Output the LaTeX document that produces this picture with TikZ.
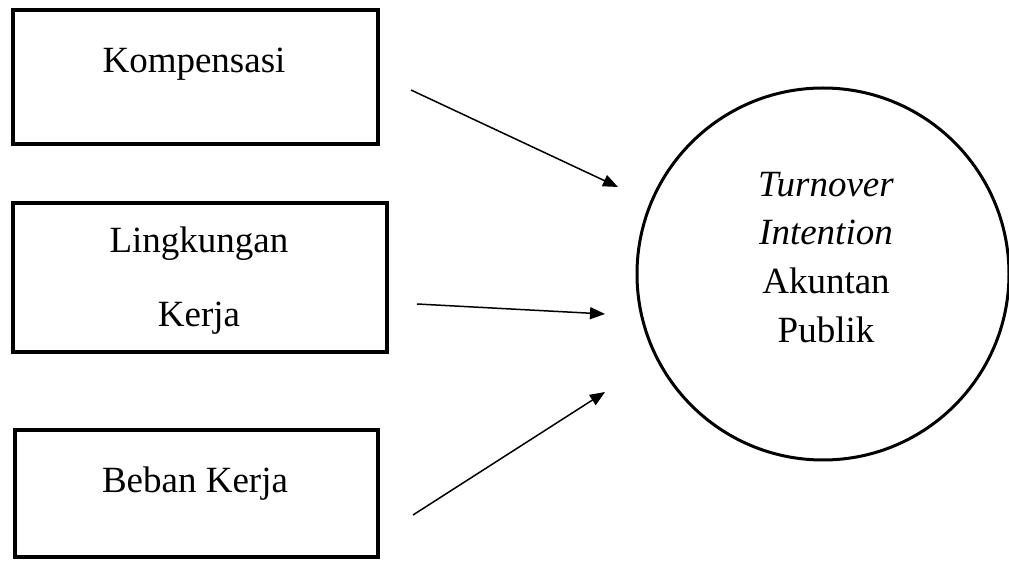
\documentclass[tikz,border=0pt]{standalone}
\usepackage{fontspec}
\setmainfont{Liberation Serif}
\usetikzlibrary{arrows.meta}
\begin{document}
\begin{tikzpicture}[x=0.5pt, y=-0.5pt,
  every node/.style={font=\fontsize{18.5}{22}\selectfont},
  kasten/.style={draw=black, line width=2.1pt, rectangle, inner sep=0pt},
  beschrift/.style={anchor=base, inner sep=0pt},
  pfeil/.style={-{Triangle[length=7.5pt, width=6pt]}, line width=0.75pt}]
  \useasboundingbox (0,0) rectangle (1009,561);
  % Kaesten der unabhaengigen Variablen
  \node[kasten, minimum width=182.5pt, minimum height=67pt] (komp) at (195.5, 77) {};
  \node[kasten, minimum width=187pt, minimum height=74.5pt] (lingk) at (200, 277.5) {};
  \node[kasten, minimum width=181.5pt, minimum height=63.5pt] (beban) at (196.5, 493.5) {};
  \node[beschrift] (komp-t) at (194, 73) {Kompensasi};
  \node[beschrift] (lingk-t1) at (199, 253) {Lingkungan};
  \node[beschrift] (lingk-t2) at (199, 327) {Kerja};
  \node[beschrift] (beban-t) at (195, 493) {Beban Kerja};
  % Kreis der abhaengigen Variable
  \node[draw=black, line width=1.5pt, circle, minimum size=186pt, inner sep=0pt] (ziel) at (823, 274) {};
  \foreach \txt/\y [count=\i] in {\textit{Turnover}/197, \textit{Intention}/245, Akuntan/294, Publik/343}
    \node[beschrift] (ziel-t\i) at (826, \y) {\txt};
  % Pfeile (frei stehend, mit Abstand zu Kaesten und Kreis)
  \coordinate (p1a) at (411, 90);  \coordinate (p1b) at (618, 187);
  \coordinate (p2a) at (417, 304); \coordinate (p2b) at (605, 314);
  \coordinate (p3a) at (413, 515); \coordinate (p3b) at (605, 392);
  \draw[pfeil] (p1a) -- (p1b);
  \draw[pfeil] (p2a) -- (p2b);
  \draw[pfeil] (p3a) -- (p3b);
\end{tikzpicture}
\end{document}
